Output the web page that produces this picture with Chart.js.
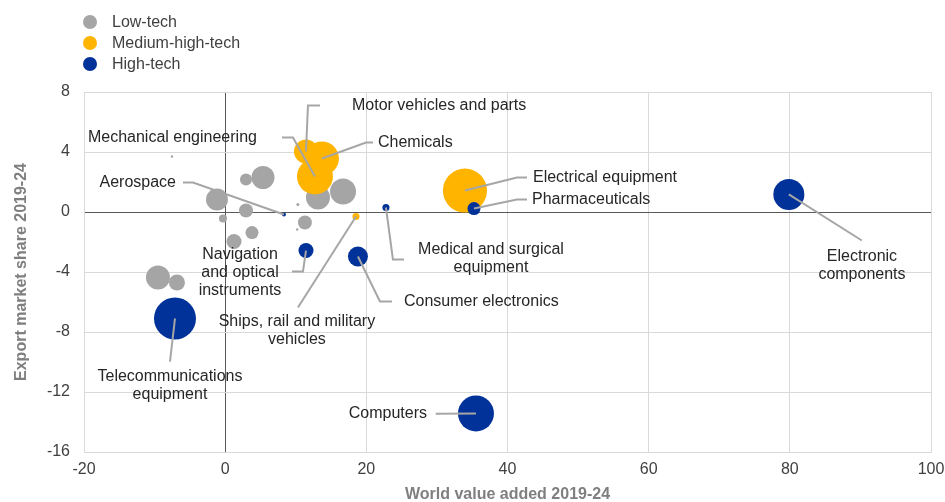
<!DOCTYPE html>
<html lang="en">
<head>
<meta charset="UTF-8">
<title>Export market share and world value added, 2019-24</title>
<script src="https://cdn.jsdelivr.net/npm/chart.js"></script>
<style>
  html, body { margin: 0; padding: 0; background: #fff; }
  #wrap { position: relative; width: 945px; height: 502px; }
  #legend {
    position: absolute; left: 83px; top: 11px;
    font: 16px "Liberation Sans", Arial, sans-serif; color: #404040;
  }
  .item { display: flex; align-items: center; height: 21px; }
  .dot { width: 14px; height: 14px; border-radius: 50%; margin-right: 15px; }
</style>
</head>
<body>
<div id="wrap">
  <canvas id="chart" width="945" height="502"></canvas>
  <div id="legend"></div>
</div>

<script>
// series
const seriesNames  = ['Low-tech', 'Medium-high-tech', 'High-tech'];
const seriesColors = ['#A5A5A5', '#FFB400', '#003299'];

// low-tech sectors (not labelled)
const lowX    = [-1.16, 2.95, 5.36, 2.95, -0.31, 3.8, 1.25, 11.3, 10.3, 10.2, -7.54, 13.15, 16.7, -9.52, -6.83];
const lowY    = [0.83, 2.17, 2.3, 0.1, -0.43, -1.37, -1.97, -0.7, 0.5, -1.17, 3.7, 0.97, 1.37, -4.37, -4.7];
const lowSize = [13.4, 4, 14.7, 5.4, 1.8, 4.7, 6.25, 5.4, 0.25, 0.16, 0.16, 16, 18.8, 16, 7.1];

// medium-high-tech sectors
const midNames = ['Motor vehicles and parts', 'Chemicals', 'Mechanical engineering', 'Electrical equipment', 'Ships, rail and military vehicles'];
const midX     = [11.45, 13.71, 12.72, 33.97, 18.53];
const midY     = [4.03, 3.57, 2.37, 1.43, -0.3];
const midSize  = [16, 32, 36, 54, 1.4];

// high-tech sectors
const highNames = ['Telecommunications equipment', 'Computers', 'Electronic components', 'Pharmaceuticals',
                   'Consumer electronics', 'Navigation and optical instruments', 'Medical and surgical equipment', 'Aerospace'];
const highX     = [-7.11, 35.53, 79.86, 35.25, 18.81, 11.45, 22.78, 8.33];
const highY     = [-7.1, -13.43, 1.17, 0.23, -2.97, -2.57, 0.3, -0.17];
const highSize  = [49, 36, 26.7, 4.7, 11.1, 6.25, 1.4, 0.44];

// axis ticks
const xTicks = [-20, 0, 20, 40, 60, 80, 100];
const yTicks = [-16, -12, -8, -4, 0, 4, 8];

// where each sector name goes (data units) and the bends of its leader line
const callouts = {
  'Motor vehicles and parts':          { text: ['Motor vehicles and parts'], at: [17.97, 7.1], align: 'left', path: [[11.73, 7.1], [13.43, 7.1]] },
  'Chemicals':                         { text: ['Chemicals'], at: [21.65, 4.63], align: 'left', path: [[19.95, 4.63], [20.94, 4.63]] },
  'Mechanical engineering':            { text: ['Mechanical engineering'], at: [4.5, 4.97], align: 'right', path: [[9.6, 4.97], [8.05, 4.97]] },
  'Electrical equipment':              { text: ['Electrical equipment'], at: [43.61, 2.3], align: 'left', path: [[41.34, 2.3], [42.76, 2.3]] },
  'Ships, rail and military vehicles': { text: ['Ships, rail and military', 'vehicles'], at: [10.17, -7.3], align: 'center', path: [[10.31, -6.37]] },
  'Telecommunications equipment':      { text: ['Telecommunications', 'equipment'], at: [-7.82, -10.97], align: 'center', path: [[-7.82, -9.97]] },
  'Computers':                         { text: ['Computers'], at: [28.59, -13.45], align: 'right', path: [[29.83, -13.45]] },
  'Electronic components':             { text: ['Electronic', 'components'], at: [90.22, -2.97], align: 'center', path: [[90.2, -1.9]] },
  'Pharmaceuticals':                   { text: ['Pharmaceuticals'], at: [43.47, 0.83], align: 'left', path: [[41.34, 0.83], [42.76, 0.83]] },
  'Consumer electronics':              { text: ['Consumer electronics'], at: [25.33, -5.97], align: 'left', path: [[21.93, -5.97], [23.63, -5.97]] },
  'Navigation and optical instruments':{ text: ['Navigation', 'and optical', 'instruments'], at: [2.1, -2.83], align: 'center', path: [[11.02, -3.97], [9.46, -3.97]] },
  'Medical and surgical equipment':    { text: ['Medical and surgical', 'equipment'], at: [37.66, -2.5], align: 'center', path: [[23.77, -3.17], [25.33, -3.17]] },
  'Aerospace':                         { text: ['Aerospace'], at: [-6.97, 1.97], align: 'right', path: [[-4.56, 1.97], [-5.98, 1.97]] }
};

// bubble area follows the size value
const radius = s => 3 * Math.sqrt(s);

function points(xs, ys, sizes, names) {
  return xs.map((x, i) => ({ x: x, y: ys[i], r: radius(sizes[i]), name: names ? names[i] : null }));
}

Chart.defaults.font.family = '"Liberation Sans", Arial, sans-serif';

// legend
const legend = document.getElementById('legend');
seriesNames.forEach((n, i) => {
  legend.innerHTML += `<div class="item"><span class="dot" style="background:${seriesColors[i]}"></span>${n}</div>`;
});

// sector names and grey leader lines
const calloutPlugin = {
  id: 'callouts',
  afterDatasetsDraw(chart) {
    const ctx = chart.ctx, xs = chart.scales.x, ys = chart.scales.y;
    ctx.save();
    chart.data.datasets.forEach((ds, di) => {
      const meta = chart.getDatasetMeta(di);
      ds.data.forEach((p, i) => {
        const c = p.name && callouts[p.name];
        if (!c) return;
        const el = meta.data[i];
        ctx.beginPath();
        ctx.strokeStyle = '#A6A6A6';
        ctx.lineWidth = 2;
        ctx.moveTo(el.x, el.y);
        c.path.forEach(q => ctx.lineTo(xs.getPixelForValue(q[0]), ys.getPixelForValue(q[1])));
        ctx.stroke();

        ctx.fillStyle = '#262626';
        ctx.font = '16px "Liberation Sans", Arial, sans-serif';
        ctx.textAlign = c.align;
        ctx.textBaseline = 'middle';
        const tx = xs.getPixelForValue(c.at[0]);
        const ty = ys.getPixelForValue(c.at[1]);
        c.text.forEach((line, k) => ctx.fillText(line, tx, ty + k * 18));
      });
    });
    ctx.restore();
  }
};

const zeroLine = c => (c.tick && c.tick.value === 0) ? '#595959' : '#D9D9D9';

new Chart(document.getElementById('chart'), {
  type: 'bubble',
  data: {
    datasets: [
      { label: seriesNames[0], data: points(lowX, lowY, lowSize), backgroundColor: seriesColors[0], borderWidth: 0, order: 3 },
      { label: seriesNames[1], data: points(midX, midY, midSize, midNames), backgroundColor: seriesColors[1], borderWidth: 0, order: 2 },
      { label: seriesNames[2], data: points(highX, highY, highSize, highNames), backgroundColor: seriesColors[2], borderWidth: 0, order: 1 }
    ]
  },
  options: {
    responsive: false,
    animation: false,
    events: [],
    layout: { autoPadding: false, padding: { top: 92, right: 0, left: 0, bottom: 0 } },
    plugins: { legend: { display: false }, tooltip: { enabled: false } },
    scales: {
      x: {
        type: 'linear', min: -20, max: 100,
        afterBuildTicks: s => { s.ticks = xTicks.map(v => ({ value: v })); },
        afterFit: s => { s.height = 50; s.paddingLeft = 0; s.paddingRight = 14; },
        grid: { color: zeroLine, drawTicks: false },
        border: { color: '#D9D9D9' },
        ticks: { padding: 8, color: '#404040', font: { size: 16 } },
        title: { display: true, text: 'World value added 2019-24', color: '#7F7F7F',
                 font: { size: 16, weight: 'bold' }, padding: { top: 0, bottom: -2 } }
      },
      y: {
        type: 'linear', min: -16, max: 8,
        afterBuildTicks: s => { s.ticks = yTicks.map(v => ({ value: v })); },
        afterFit: s => { s.width = 84; },
        grid: { color: zeroLine, drawTicks: false },
        border: { color: '#D9D9D9' },
        ticks: { padding: 14, color: '#404040', font: { size: 16 } },
        title: { display: true, text: 'Export market share 2019-24', color: '#7F7F7F',
                 font: { size: 16, weight: 'bold' }, padding: { top: 12, bottom: 0 } }
      }
    }
  },
  plugins: [calloutPlugin]
});
</script>
</body>
</html>
